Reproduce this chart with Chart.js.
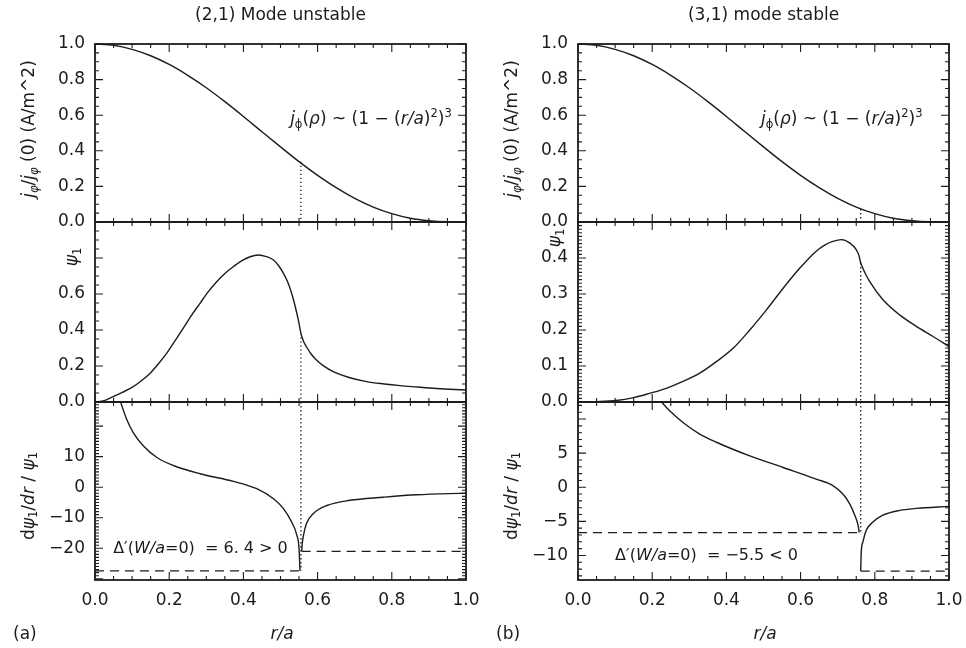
<!DOCTYPE html>
<html><head><meta charset="utf-8">
<script src="https://cdn.jsdelivr.net/npm/chart.js@4.4.1/dist/chart.umd.min.js"></script>
<style>
html,body{margin:0;padding:0;background:#fff;}
#wrap{position:relative;width:966px;height:648px;overflow:hidden;background:#fff;}
canvas{position:absolute;}
</style></head><body><div id="wrap"></div>
<script>
// ---------------- data ----------------
const X_TICKS = [0, 0.2, 0.4, 0.6, 0.8, 1.0];
const TITLES = ['(2,1) Mode unstable', '(3,1) mode stable'];
const PANEL_TAGS = ['(a)', '(b)'];
const RS_A = 0.555, RS_B = 0.762;

// current profile j/j(0)
const J_R   = [0,0.05,0.1,0.15,0.2,0.25,0.3,0.35,0.4,0.45,0.5,0.55,0.6,0.65,0.7,0.75,0.8,0.85,0.9,0.95,1.0];
const J_VAL = [1.000,0.993,0.970,0.934,0.885,0.824,0.754,0.676,0.593,0.507,0.422,0.339,0.262,0.193,0.133,0.084,0.047,0.021,0.007,0.001,0.000];
const Y_TICKS_TOP = [0, 0.2, 0.4, 0.6, 0.8, 1.0];

// psi_1, case (a)
const PSI_A_R = [0,0.025,0.049,0.075,0.103,0.125,0.148,0.17,0.193,0.215,0.238,0.26,0.283,0.305,0.328,0.35,0.373,0.395,0.418,0.44,0.462,0.481,0.495,0.508,0.520,0.530,0.540,0.548,0.555,0.562,0.570,0.582,0.597,0.617,0.642,0.685,0.732,0.78,0.822,0.87,0.912,0.955,1.0];
const PSI_A   = [0,0.008,0.030,0.055,0.085,0.118,0.159,0.210,0.270,0.338,0.410,0.481,0.548,0.612,0.668,0.714,0.752,0.784,0.807,0.817,0.808,0.789,0.757,0.715,0.664,0.604,0.528,0.456,0.381,0.337,0.307,0.268,0.233,0.199,0.169,0.136,0.113,0.100,0.091,0.083,0.076,0.071,0.067];
const Y_TICKS_MID_A = [0, 0.2, 0.4, 0.6];

// psi_1, case (b)
const PSI_B_R = [0,0.05,0.103,0.15,0.193,0.238,0.283,0.328,0.373,0.418,0.463,0.508,0.553,0.598,0.642,0.665,0.687,0.710,0.732,0.750,0.757,0.762,0.772,0.786,0.822,0.867,0.912,0.957,1.0];
const PSI_B   = [0,0.001,0.004,0.012,0.024,0.038,0.057,0.080,0.112,0.149,0.200,0.256,0.316,0.372,0.419,0.436,0.446,0.451,0.442,0.423,0.408,0.386,0.362,0.335,0.284,0.242,0.210,0.182,0.154];
const Y_TICKS_MID_B = [0, 0.1, 0.2, 0.3, 0.4];

// dpsi/dr / psi, case (a)
const DA_IN_R  = [0.069,0.085,0.103,0.13,0.166,0.211,0.283,0.373,0.436,0.481,0.508,0.530,0.544,0.550,0.5525];
const DA_IN    = [27.9,22.3,17.9,13.6,9.8,7.1,4.4,1.9,-0.5,-3.8,-7.0,-11.4,-15.7,-20.1,-27.4];
const DA_OUT_R = [0.557,0.559,0.562,0.570,0.588,0.625,0.687,0.777,0.867,1.0];
const DA_OUT   = [-21.0,-18.0,-15.7,-11.9,-8.7,-6.0,-4.3,-3.3,-2.5,-1.95];
const DASH_A   = [-27.4, -21.0];
const Y_TICKS_BOT_A = [-20, -10, 0, 10];

// dpsi/dr / psi, case (b)
const DB_IN_R  = [0.225,0.247,0.283,0.328,0.373,0.463,0.553,0.642,0.687,0.714,0.732,0.746,0.755,0.758];
const DB_IN    = [12.5,11.2,9.5,7.8,6.6,4.6,2.9,1.2,0.25,-1.0,-2.4,-4.1,-5.6,-6.65];
const DB_OUT_R = [0.762,0.7635,0.768,0.777,0.795,0.822,0.867,0.912,1.0];
const DB_OUT   = [-12.3,-9.5,-8.0,-6.3,-5.1,-4.1,-3.4,-3.1,-2.8];
const DASH_B   = [-6.65, -12.3];
const Y_TICKS_BOT_B = [-10, -5, 0, 5];

// dotted marker heights at r_s : [top panel, middle panel, bottom panel (from, to)]
const DOT_A = [0.339, 0.381, 27.9, -27.4];
const DOT_B = [0.073, 0.386, 12.5, -6.65];

// ---------------- style ----------------
const INK = '#1c1c1c';
const FONT = '"DejaVu Sans", sans-serif';
const FS = 17;
Chart.defaults.font.family = FONT;
Chart.defaults.color = INK;

const pts = (xs, ys) => xs.map((x, i) => ({x, y: ys[i]}));
function curveData(d) {
  return {data: d, borderColor: INK, borderWidth: 1.4, pointRadius: 0, fill: false,
          cubicInterpolationMode: 'monotone'};
}
const curve = (xs, ys) => curveData(pts(xs, ys));
function split(xs, ys, rs) {
  const a = [], b = [];
  xs.forEach((x, i) => { if (x <= rs + 1e-9) a.push({x, y: ys[i]}); if (x >= rs - 1e-9) b.push({x, y: ys[i]}); });
  return [a, b];
}
function seg(data, dash) {
  return {data, borderColor: INK, borderWidth: 1.3, pointRadius: 0, fill: false, borderDash: dash, tension: 0};
}
const DOTS = [1.4, 2.6], DASHES = [9, 6];

// ---------------- plugins ----------------
const framePlugin = {
  id: 'frame',
  afterDatasetsDraw(chart, args, o) {
    const {ctx, chartArea: a} = chart; const x = chart.scales.x, y = chart.scales.y;
    ctx.save();
    ctx.strokeStyle = INK;
    const each = (sc, maj, min, cb) => {
      const n0 = Math.ceil(sc.min / min - 1e-6), n1 = Math.floor(sc.max / min + 1e-6);
      for (let n = n0; n <= n1; n++) {
        const v = n * min, q = v / maj;
        cb(sc.getPixelForValue(v), Math.abs(q - Math.round(q)) < 1e-6 ? 8 : 4);
      }
    };
    ctx.lineWidth = 1.1;
    ctx.beginPath();
    each(y, o.yMajor, o.yMinor, (p, L) => { ctx.moveTo(a.left, p); ctx.lineTo(a.left + L, p); ctx.moveTo(a.right, p); ctx.lineTo(a.right - L, p); });
    each(x, 0.2, 0.05, (p, L) => { ctx.moveTo(p, a.top); ctx.lineTo(p, a.top + L); ctx.moveTo(p, a.bottom); ctx.lineTo(p, a.bottom - L); });
    ctx.stroke();
    ctx.lineWidth = 1.8;
    ctx.strokeRect(a.left, a.top, a.right - a.left, a.bottom - a.top);
    ctx.restore();
  }
};

function drawRich(ctx, segs, x, y, size, align, rotate) {
  ctx.save();
  ctx.translate(x, y);
  if (rotate) ctx.rotate(-Math.PI / 2);
  let total = 0;
  const parts = segs.map(s => {
    const fs = (s.sub || s.sup) ? size * 0.68 : size;
    const font = (s.it ? 'italic ' : '') + fs + 'px ' + FONT;
    ctx.font = font;
    const w = ctx.measureText(s.t).width;
    const dy = s.sub ? size * 0.22 : s.sup ? -size * 0.42 : 0;
    total += w;
    return {t: s.t, font, w, dy};
  });
  let cx = align === 'center' ? -total / 2 : align === 'right' ? -total : 0;
  const base = size * 0.36;
  ctx.fillStyle = INK; ctx.textBaseline = 'alphabetic'; ctx.textAlign = 'left';
  parts.forEach(p => { ctx.font = p.font; ctx.fillText(p.t, cx, base + p.dy); cx += p.w; });
  ctx.restore();
}

const textPlugin = {
  id: 'rich',
  afterDraw(chart, args, o) {
    const ctx = chart.ctx;
    (o.items || []).forEach(it => {
      let px = it.x, py = it.y;
      if (it.data) { px = chart.scales.x.getPixelForValue(it.x); py = chart.scales.y.getPixelForValue(it.y); }
      drawRich(ctx, it.segs, px, py, it.size || FS, it.align || 'left', it.rotate);
    });
  }
};

// ---------------- text content ----------------
const T_JAXIS = [{t:'j',it:1},{t:'φ',sub:1,it:1},{t:'/'},{t:'j',it:1},{t:'φ',sub:1,it:1},{t:' (0) (A/m^2)'}];
const T_PSI = [{t:'ψ',it:1},{t:'1',sub:1}];
const T_DAXIS = [{t:'d'},{t:'ψ',it:1},{t:'1',sub:1},{t:'/'},{t:'dr',it:1},{t:' / '},{t:'ψ',it:1},{t:'1',sub:1}];
const T_JFORM = [{t:'j',it:1},{t:'ϕ',sub:1},{t:'('},{t:'ρ',it:1},{t:') ~ (1 − ('},{t:'r/a',it:1},{t:')'},{t:'2',sup:1},{t:')'},{t:'3',sup:1}];
const T_DELTA_A = [{t:'Δ′('},{t:'W/a',it:1},{t:'=0)  = 6. 4 > 0'}];
const T_DELTA_B = [{t:'Δ′('},{t:'W/a',it:1},{t:'=0)  = −5.5 < 0'}];
const T_RA = [{t:'r/a',it:1}];

// ---------------- charts ----------------
const wrap = document.getElementById('wrap');
function mk(left, top, w, h) {
  const c = document.createElement('canvas');
  c.width = w; c.height = h; c.style.left = left + 'px'; c.style.top = top + 'px';
  c.style.width = w + 'px'; c.style.height = h + 'px';
  wrap.appendChild(c); return c.getContext('2d');
}
const fmtY = (d) => v => (v < 0 ? '−' + Math.abs(v).toFixed(d) : v.toFixed(d));

function panel({left, top, h, pad, datasets, ymin, ymax, yticks, ydec, yMajor, yMinor, title, bottom, items}) {
  const scales = {
    x: {type: 'linear', min: 0, max: 1, display: !!bottom,
        grid: {display: false, drawTicks: false}, border: {display: false},
        afterBuildTicks: s => { s.ticks = X_TICKS.map(v => ({value: v})); },
        afterFit: s => { if (bottom) s.height = 68; s.paddingLeft = 0; s.paddingRight = 0; },
        ticks: {autoSkip: false, maxRotation: 0, padding: 10, color: INK, font: {size: FS}, callback: v => v.toFixed(1)}},
    y: {type: 'linear', min: ymin, max: ymax,
        grid: {display: false, drawTicks: false}, border: {display: false},
        afterBuildTicks: s => { s.ticks = yticks.map(v => ({value: v})); },
        afterFit: s => { s.width = 95; s.paddingTop = 0; s.paddingBottom = 0; },
        ticks: {autoSkip: false, padding: 10, color: INK, font: {size: FS}, callback: fmtY(ydec)}}
  };
  new Chart(mk(left, top, 483, h), {
    type: 'line',
    data: {datasets},
    options: {
      responsive: false, animation: false, events: [],
      layout: {padding: pad, autoPadding: false},
      scales,
      plugins: {
        legend: {display: false}, tooltip: {enabled: false},
        title: title ? {display: true, text: title, fullSize: false, color: INK,
                        font: {size: FS, weight: 'normal', lineHeight: 1.2},
                        padding: {top: 5, bottom: 18.6}} : {display: false},
        frame: {yMajor, yMinor},
        rich: {items}
      }
    },
    plugins: [framePlugin, textPlugin]
  });
}

[0, 1].forEach(col => {
  const L = col * 483;
  const rs = col ? RS_B : RS_A;
  const dot = col ? DOT_B : DOT_A;
  // top
  panel({left: L, top: 0, h: 232, pad: {left: 0, right: 17, top: 0, bottom: 10},
    datasets: [curve(J_R, J_VAL), seg([{x: rs, y: dot[0]}, {x: rs, y: 0}], DOTS)],
    ymin: 0, ymax: 1, yticks: Y_TICKS_TOP, ydec: 1, yMajor: 0.2, yMinor: 0.05, title: TITLES[col],
    items: [{segs: T_JAXIS, x: 28, y: 129, rotate: true, align: 'center'},
            {segs: T_JFORM, data: true, x: col ? 0.493 : 0.526, y: 0.584}]});
  // middle
  const [pa, pb] = col ? split(PSI_B_R, PSI_B, rs) : split(PSI_A_R, PSI_A, rs);
  panel({left: L, top: 212, h: 200, pad: {left: 0, right: 17, top: 10, bottom: 10},
    datasets: [curveData(pa), curveData(pb), seg([{x: rs, y: dot[1]}, {x: rs, y: 0}], DOTS)],
    ymin: 0, ymax: col ? 0.5 : 1.0, yticks: col ? Y_TICKS_MID_B : Y_TICKS_MID_A, ydec: 1,
    yMajor: col ? 0.1 : 0.2, yMinor: col ? 0.01 : 0.05,
    items: [{segs: T_PSI, x: 71, y: col ? 26 : 45, rotate: true, align: 'center'}]});
  // bottom
  const dash = col ? DASH_B : DASH_A;
  const inR = col ? DB_IN_R : DA_IN_R, inV = col ? DB_IN : DA_IN;
  const outR = col ? DB_OUT_R : DA_OUT_R, outV = col ? DB_OUT : DA_OUT;
  panel({left: L, top: 392, h: 256, pad: {left: 0, right: 17, top: 10, bottom: 0},
    datasets: [curve(inR, inV), curve(outR, outV),
      seg([{x: rs, y: dot[2]}, {x: rs, y: dot[3]}], DOTS),
      seg([{x: 0, y: dash[0]}, {x: inR[inR.length - 1], y: dash[0]}], DASHES),
      seg([{x: outR[0], y: dash[1]}, {x: 1, y: dash[1]}], DASHES)],
    ymin: col ? -13.6 : -30.4, ymax: col ? 12.5 : 27.9, yticks: col ? Y_TICKS_BOT_B : Y_TICKS_BOT_A, ydec: 0,
    yMajor: col ? 5 : 10, yMinor: 1, bottom: true,
    items: [{segs: T_DAXIS, x: 27.5, y: 104, rotate: true, align: 'center'},
            {segs: col ? T_DELTA_B : T_DELTA_A, data: true, size: 16, x: col ? 0.1 : 0.049, y: col ? -9.8 : -19.6},
            {segs: T_RA, x: 282, y: 241, align: 'center'},
            {segs: [{t: PANEL_TAGS[col]}], x: 13, y: 241}]});
});
</script>
</body></html>
